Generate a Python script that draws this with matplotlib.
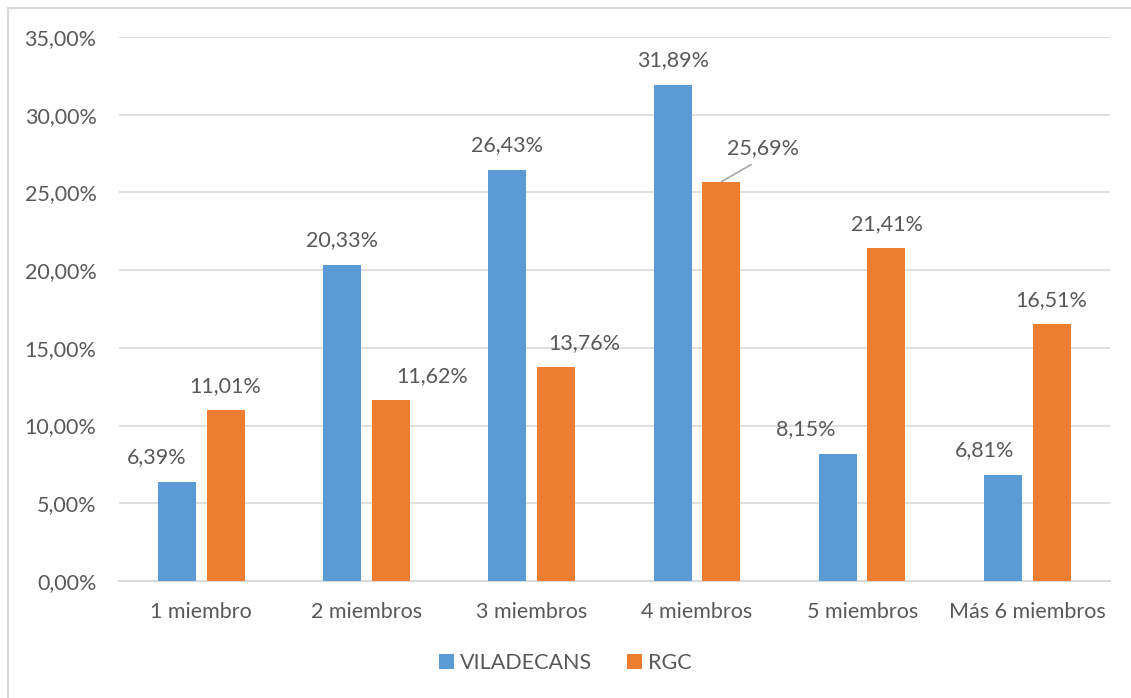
import matplotlib.pyplot as plt
import numpy as np
from matplotlib.lines import Line2D

categorias = ['1 miembro', '2 miembros', '3 miembros', '4 miembros', '5 miembros', 'Más 6 miembros']
viladecans = [6.39, 20.33, 26.43, 31.89, 8.15, 6.81]
rgc = [11.01, 11.62, 13.76, 25.69, 21.41, 16.51]

# desplazamiento horizontal de las etiquetas (px), como las recoloca Excel
dx_vil = [-20, 0, 0, 0, -32, -19]
dx_rgc = [0, 41, 28, 42, 0, 0]

azul = '#5B9BD5'
naranja = '#ED7D31'
gris = '#595959'
fs = 15.5

plt.rcParams['font.family'] = ['Lato', 'DejaVu Sans']

fig = plt.figure(figsize=(11.31, 6.98), dpi=100)
ax = fig.add_axes([0.105, 0.1676, 0.8764, 0.7794])

x = np.arange(len(categorias))
ancho = 0.23
desp = 0.147

b1 = ax.bar(x - desp, viladecans, ancho, color=azul, label='VILADECANS', zorder=3)
b2 = ax.bar(x + desp, rgc, ancho, color=naranja, label='RGC', zorder=3)

def fmt(v):
    return f'{v:.2f}%'.replace('.', ',')

for xi, v, d in zip(x - desp, viladecans, dx_vil):
    ax.annotate(fmt(v), (xi, v), xytext=(d, 25), textcoords='offset pixels',
                ha='center', va='center', fontsize=fs, color=gris)
for i, (xi, v, d) in enumerate(zip(x + desp, rgc, dx_rgc)):
    if i == 3:
        # etiqueta desplazada con línea guía
        ax.annotate(fmt(v), (xi, v), xytext=(d, 34), textcoords='offset pixels',
                    ha='center', va='center', fontsize=fs, color=gris,
                    arrowprops=dict(arrowstyle='-', color='#A6A6A6', lw=1.2,
                                    shrinkA=6, shrinkB=0, relpos=(0.5, 0)))
    else:
        ax.annotate(fmt(v), (xi, v), xytext=(d, 24), textcoords='offset pixels',
                    ha='center', va='center', fontsize=fs, color=gris)

ax.set_xlim(-0.5, len(categorias) - 0.5)
ax.set_ylim(0, 35)
ax.set_yticks(np.arange(0, 36, 5))
ax.set_yticklabels([f'{t},00%' for t in range(0, 36, 5)])
ax.set_xticks(x)
ax.set_xticklabels(categorias)

ax.tick_params(axis='both', length=0, labelsize=fs, labelcolor=gris)
ax.tick_params(axis='y', pad=16)
ax.tick_params(axis='x', pad=15)
ax.grid(axis='y', color='#D9D9D9', lw=1.2, zorder=0)
for s in ['top', 'right', 'left']:
    ax.spines[s].set_visible(False)
ax.spines['bottom'].set_color('#D9D9D9')
ax.spines['bottom'].set_linewidth(1.5)

fig.legend(handles=[b1, b2], loc='center', bbox_to_anchor=(0.5, 0.05), ncol=2,
           frameon=False, fontsize=fs, labelcolor=gris, handlelength=0.7,
           handleheight=0.7, handletextpad=0.3, columnspacing=1.6)

# borde del gráfico
fig.add_artist(Line2D([8 / 1131, 1], [1 - 8 / 698, 1 - 8 / 698], color='#D9D9D9', lw=1.5))
fig.add_artist(Line2D([8 / 1131, 8 / 1131], [0, 1 - 8 / 698], color='#D9D9D9', lw=1.5))

fig.savefig('out.png', dpi=100)
